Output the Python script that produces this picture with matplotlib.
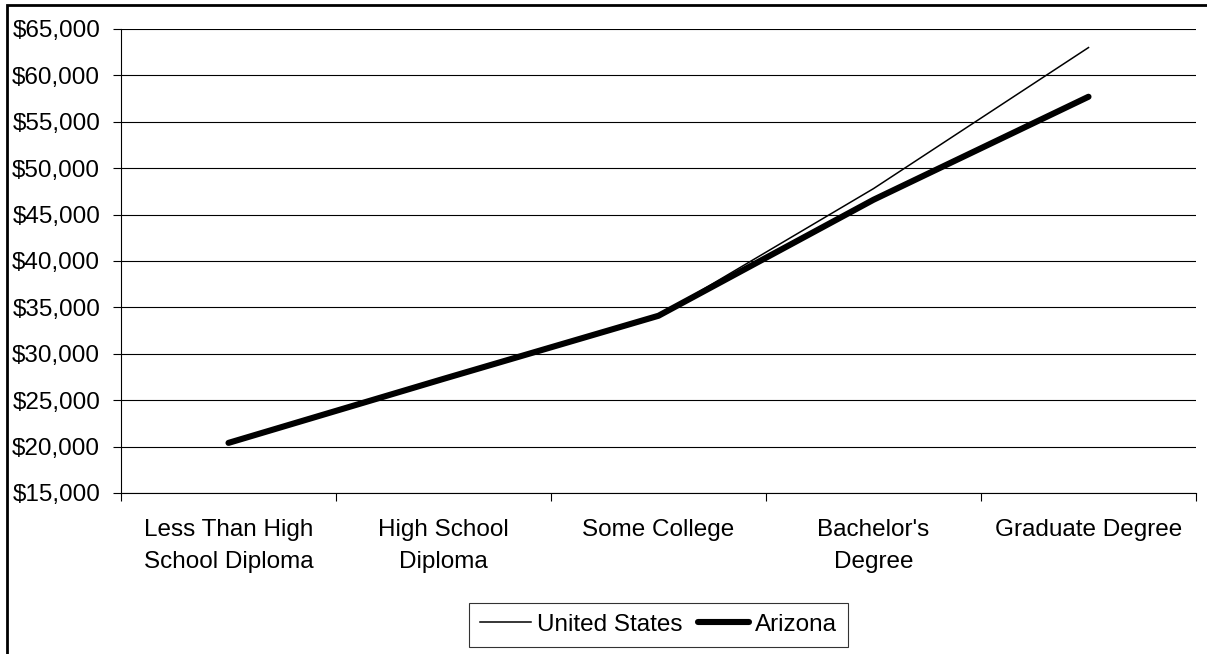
import matplotlib
matplotlib.use('Agg')
import matplotlib.pyplot as plt
from matplotlib.patches import Rectangle
from matplotlib.ticker import FuncFormatter

categories = ['Less Than High\nSchool Diploma', 'High School\nDiploma',
              'Some College', "Bachelor's\nDegree", 'Graduate Degree']
us_values = [20300, 27300, 34100, 47800, 63000]
az_values = [20400, 27300, 34100, 46600, 57700]
y_ticks = list(range(15000, 65001, 5000))

plt.rcParams['font.family'] = ['Liberation Sans', 'DejaVu Sans']
fs = 17.5

fig = plt.figure(figsize=(12.07, 6.54), dpi=100)
ax = fig.add_axes([121 / 1207, 1 - 493 / 654, (1196 - 121) / 1207, (493 - 29) / 654])

x = list(range(len(categories)))
ax.plot(x, us_values, color='black', lw=1.1, label='United States', zorder=3)
ax.plot(x, az_values, color='black', lw=4.4, label='Arizona',
        solid_capstyle='round', zorder=4)

ax.set_xlim(-0.5, len(categories) - 0.5)
ax.set_ylim(15000, 65000)
ax.set_yticks(y_ticks)
ax.yaxis.set_major_formatter(FuncFormatter(lambda v, p: '${:,.0f}'.format(v)))
ax.grid(axis='y', color='black', lw=0.8)
ax.set_axisbelow(True)

# ticks between categories, labels at centres
ax.set_xticks([i - 0.5 for i in range(len(categories) + 1)])
ax.set_xticklabels([])
ax.set_xticks(x, minor=True)
ax.set_xticklabels(categories, minor=True, fontsize=fs, linespacing=1.55)
ax.tick_params(axis='x', which='major', length=5.5, width=0.8, direction='out')
ax.tick_params(axis='x', which='minor', length=0, pad=19)
ax.tick_params(axis='y', length=6, width=0.8, pad=9, labelsize=fs)

for s in ['top', 'right']:
    ax.spines[s].set_visible(False)
for s in ['left', 'bottom']:
    ax.spines[s].set_linewidth(0.8)
ax.spines['left'].set_bounds(15000, 65000)

leg = ax.legend(loc='upper center', bbox_to_anchor=(0.5, -0.237), ncol=2,
                fontsize=fs, frameon=True, fancybox=False, handlelength=2.1,
                handletextpad=0.25, columnspacing=0.6, borderpad=0.45,
                borderaxespad=0)
leg.get_frame().set_edgecolor('black')
leg.get_frame().set_linewidth(0.8)

# outer chart frame (right and bottom edges fall outside the image)
fig.patches.append(Rectangle((6.5 / 1207, -0.1), 1.2, 1.1 - 5.5 / 654,
                             transform=fig.transFigure, fill=False,
                             edgecolor='black', lw=2.0))

fig.savefig('out.png', dpi=100)
